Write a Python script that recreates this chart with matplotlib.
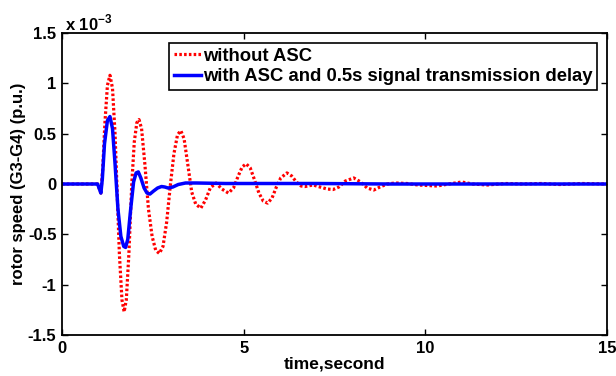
import matplotlib
matplotlib.use("Agg")
import matplotlib.pyplot as plt

plt.rcParams['font.family'] = ['Liberation Sans', 'DejaVu Sans']
plt.rcParams['font.weight'] = 'bold'
plt.rcParams['axes.unicode_minus'] = False
plt.rcParams['mathtext.fontset'] = 'custom'
plt.rcParams['mathtext.rm'] = 'Liberation Sans:bold'
plt.rcParams['mathtext.bf'] = 'Liberation Sans:bold'

# values, rotor speed in units of 1e-3 p.u.
t_no_asc = [0, 0.98, 1.03, 1.07, 1.12, 1.18, 1.25, 1.32, 1.39, 1.46, 1.52, 1.58,
            1.65, 1.71, 1.77, 1.84, 1.92, 1.99, 2.06, 2.12, 2.19, 2.28, 2.38,
            2.48, 2.58, 2.68, 2.78, 2.88, 2.98, 3.08, 3.18, 3.27, 3.36, 3.46,
            3.57, 3.68, 3.82, 3.95, 4.08, 4.24, 4.40, 4.58, 4.72, 4.85, 4.96,
            5.07, 5.18, 5.30, 5.42, 5.54, 5.66, 5.78, 5.90, 6.02, 6.19, 6.32,
            6.45, 6.58, 6.69, 6.91, 7.10, 7.30, 7.46, 7.62, 7.80, 8.03, 8.22,
            8.40, 8.58, 8.75, 8.95, 9.17, 9.5, 9.8, 10.32, 10.65, 11.0, 11.3,
            11.7, 12.2, 12.7, 13.2, 13.7, 14.3, 15]
w_no_asc = [0, 0, -0.05, -0.09, 0.15, 0.60, 0.98, 1.08, 0.95, 0.50, -0.10, -0.70,
            -1.15, -1.27, -1.15, -0.70, 0.00, 0.42, 0.61, 0.64, 0.55, 0.20, -0.25,
            -0.52, -0.66, -0.69, -0.62, -0.38, -0.02, 0.30, 0.49, 0.53, 0.45, 0.20,
            -0.08, -0.20, -0.24, -0.16, -0.04, 0.01, -0.05, -0.09, -0.04, 0.08, 0.17,
            0.20, 0.16, 0.04, -0.09, -0.17, -0.19, -0.14, -0.03, 0.06, 0.11, 0.08,
            0.02, -0.02, -0.025, -0.01, -0.03, -0.05, -0.055, -0.03, 0.03, 0.06, 0.02,
            -0.04, -0.06, -0.03, 0.00, 0.01, 0.005, -0.01, -0.02, 0.00, 0.02, 0.00,
            -0.01, 0.005, 0.0, 0.005, -0.005, 0.005, 0]

t_asc = [0, 0.98, 1.03, 1.07, 1.11, 1.17, 1.25, 1.32, 1.39, 1.46, 1.54, 1.62,
         1.70, 1.75, 1.81, 1.89, 1.97, 2.04, 2.10, 2.17, 2.26, 2.34, 2.42, 2.52,
         2.63, 2.74, 2.83, 2.92, 3.05, 3.2, 3.4, 3.7, 4.5, 7, 9, 15]
w_asc = [0, 0, -0.05, -0.09, 0.05, 0.40, 0.63, 0.67, 0.55, 0.20, -0.25, -0.52,
         -0.62, -0.63, -0.55, -0.25, 0.02, 0.11, 0.12, 0.06, -0.04, -0.09, -0.10, -0.07,
         -0.04, -0.025, -0.03, -0.04, -0.03, -0.005, 0.01, 0.01, 0.005, 0.005, 0.0, 0]

labels = ['without ASC', 'with ASC and 0.5s signal transmission delay']

fig = plt.figure(figsize=(6.16, 3.76), dpi=100)
ax = fig.add_axes([62/616, 41/376, 545/616, 302/376])

ax.plot(t_no_asc, w_no_asc, color='red', lw=2.3, ls=(0, (0.8, 0.7)), label=labels[0])
ax.plot(t_asc, w_asc, '-', color='blue', lw=2.5, label=labels[1])

ax.set_xlim(0, 15)
ax.set_ylim(-1.5, 1.5)
ax.set_xticks([0, 5, 10, 15])
ax.set_yticks([-1.5, -1, -0.5, 0, 0.5, 1, 1.5])
ax.set_yticklabels(['-1.5', '-1', '-0.5', '0', '0.5', '1', '1.5'])
ax.tick_params(direction='in', top=True, right=True, length=4, width=1,
               labelsize=12, pad=4)
for s in ax.spines.values():
    s.set_linewidth(1.3)

ax.set_xlabel('time,second', fontsize=12.5, fontweight='bold', labelpad=1)
ax.set_ylabel('rotor speed (G3-G4) (p.u.)', fontsize=12, fontweight='bold', labelpad=1)
ax.text(0.005, 1.0, r'x 10$^{-3}$', transform=ax.transAxes, fontsize=12,
        fontweight='bold', ha='left', va='bottom')

leg = ax.legend(loc='upper right', bbox_to_anchor=(0.982, 0.967), borderaxespad=0,
                fancybox=False, framealpha=1, edgecolor='black', fontsize=13.3,
                handlelength=1.5, handletextpad=0.1, borderpad=0.25, labelspacing=0.2)
leg.get_frame().set_linewidth(1.2)

fig.savefig('out.png', dpi=100)
